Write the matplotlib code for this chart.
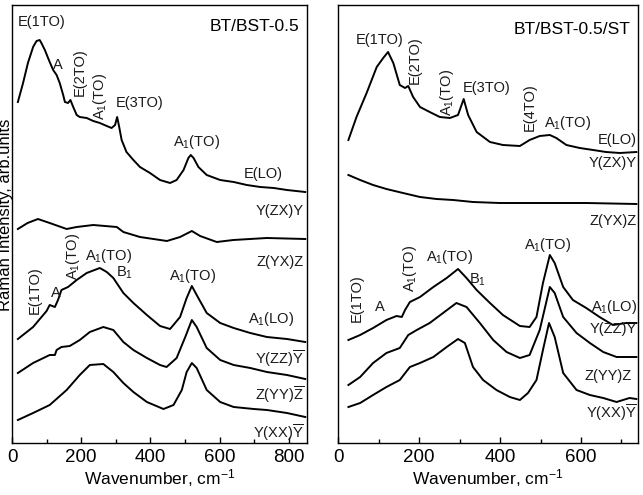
import matplotlib
matplotlib.use("Agg")
import matplotlib.pyplot as plt
from matplotlib.ticker import MultipleLocator

plt.rcParams['font.family'] = ['Liberation Sans', 'DejaVu Sans']
plt.rcParams['mathtext.fontset'] = 'custom'
plt.rcParams['mathtext.rm'] = 'Liberation Sans'
plt.rcParams['mathtext.it'] = 'Liberation Sans:italic'
plt.rcParams['mathtext.bf'] = 'Liberation Sans:bold'

# ---------------- data: left panel (BT/BST-0.5) ----------------
L1_wn = [17, 32, 46, 61, 71, 80, 85, 95, 109, 119, 129, 138, 148, 153, 162, 169, 177, 187, 196, 216,
         235, 254, 274, 288, 298, 304, 310, 317, 331, 351, 370, 399, 428, 457, 476, 496, 510, 517, 525, 539,
         563, 602, 641, 679, 718, 757, 795, 848]
L1_I = [341, 360, 380, 396, 402, 403, 400, 393, 381, 373, 368, 360, 348, 341, 340, 343, 336, 328, 326, 325,
        322, 320, 317, 315, 318, 326, 316, 303, 291, 283, 276, 270, 263, 260, 263, 273, 285, 288, 285, 276,
        268, 263, 261, 258, 256, 255, 253, 251]

L2_wn = [17, 45, 75, 109, 158, 187, 235, 303, 322, 370, 448, 486, 520, 544, 592, 640, 737, 848]
L2_I = [214, 220, 224, 220, 214, 216, 218, 216, 211, 206, 202, 206, 212, 207, 201, 203, 205, 204]

L3_wn = [17, 61, 100, 109, 124, 133, 143, 162, 187, 216, 254, 274, 293, 322, 351, 390, 428, 457, 486, 505,
         520, 534, 563, 602, 641, 689, 737, 795, 848]
L3_I = [104, 116, 132, 138, 136, 143, 153, 156, 163, 170, 175, 171, 165, 150, 140, 128, 117, 114, 126, 145,
        157, 148, 130, 120, 115, 110, 106, 104, 101]

L4_wn = [17, 61, 109, 124, 129, 143, 167, 196, 225, 264, 293, 322, 351, 390, 428, 447, 476, 501, 520, 534,
         563, 602, 641, 689, 737, 795, 848]
L4_I = [70, 80, 88, 88, 93, 96, 97, 103, 111, 116, 113, 101, 93, 85, 78, 76, 85, 106, 123, 116,
        95, 83, 78, 75, 71, 68, 64]

L5_wn = [17, 61, 109, 158, 196, 225, 264, 293, 322, 351, 390, 438, 467, 491, 505, 520, 534, 563, 602, 641,
         699, 737, 795, 848]
L5_I = [23, 30, 38, 53, 68, 78, 79, 71, 60, 51, 41, 34, 38, 53, 71, 80, 75, 53, 41, 36,
        34, 33, 30, 26]

# ---------------- data: right panel (BT/BST-0.5/ST) ----------------
R1_wn = [25, 45, 70, 95, 111, 123, 136, 152, 165, 173, 185, 202, 226, 251, 276, 296, 310, 321, 342, 375,
         407, 449, 473, 498, 523, 539, 564, 597, 630, 662, 696, 737]
R1_I = [303, 326, 350, 376, 385, 391, 380, 358, 355, 357, 346, 336, 331, 326, 325, 328, 344, 328, 311, 301,
        298, 297, 303, 307, 308, 305, 298, 295, 293, 291, 290, 291]

R2_wn = [25, 54, 86, 119, 160, 202, 243, 284, 333, 399, 465, 531, 613, 737]
R2_I = [268, 263, 258, 254, 250, 246, 244, 243, 241, 240, 240, 240, 240, 239]

R3_wn = [25, 54, 86, 119, 144, 157, 165, 177, 202, 235, 268, 296, 317, 342, 375, 407, 449, 473, 490, 506,
         523, 535, 556, 580, 613, 646, 679, 712, 737]
R3_I = [103, 108, 115, 123, 127, 126, 133, 141, 146, 156, 165, 174, 165, 153, 140, 128, 117, 116, 126, 160,
        188, 180, 156, 143, 135, 126, 118, 120, 120]

R4_wn = [25, 54, 86, 119, 152, 173, 194, 226, 259, 292, 317, 350, 383, 416, 449, 473, 498, 523, 535, 556,
         589, 622, 655, 688, 737]
R4_I = [58, 66, 80, 90, 95, 108, 113, 120, 130, 140, 136, 120, 103, 91, 85, 88, 113, 156, 150, 126,
        110, 100, 91, 86, 86]

R5_wn = [25, 54, 86, 119, 152, 177, 202, 235, 268, 296, 313, 333, 358, 391, 424, 449, 469, 490, 506, 521,
         535, 556, 589, 622, 655, 688, 720, 737]
R5_I = [36, 40, 48, 56, 63, 76, 80, 86, 96, 104, 100, 76, 63, 53, 46, 43, 50, 63, 93, 120,
        106, 70, 53, 48, 45, 41, 45, 44]

left_series = [(L1_wn, L1_I), (L2_wn, L2_I), (L3_wn, L3_I), (L4_wn, L4_I), (L5_wn, L5_I)]
right_series = [(R1_wn, R1_I), (R2_wn, R2_I), (R3_wn, R3_I), (R4_wn, R4_I), (R5_wn, R5_I)]

A1 = r'A$_1$'
OY = r'$\overline{\mathrm{Y}}$'
OZ = r'$\overline{\mathrm{Z}}$'

# (text, wn, intensity, ha, rotation)
left_labels = [
    ('E(1TO)', 85, 421, 'center', 0),
    ('A', 132, 378, 'center', 0),
    ('E(2TO)', 196, 371, 'center', 90),
    (A1 + '(TO)', 254, 347, 'center', 90),
    ('E(3TO)', 370, 340, 'center', 0),
    (A1 + '(TO)', 533, 301, 'center', 0),
    ('E(LO)', 727, 269, 'center', 0),
    ('Y(ZX)Y', 842, 232, 'right', 0),
    ('Z(YX)Z', 845, 181, 'right', 0),
    ('E(1TO)', 66, 153, 'center', 90),
    ('A', 127, 150, 'center', 0),
    (A1 + '(TO)', 176, 187, 'center', 90),
    (A1 + '(TO)', 280, 187, 'center', 0),
    ('B$_1$', 324, 170, 'center', 0),
    (A1 + '(TO)', 521, 167, 'center', 0),
    (A1 + '(LO)', 750, 124, 'center', 0),
    ('Y(ZZ)' + OY, 845, 84, 'right', 0),
    ('Z(YY)' + OZ, 845, 48, 'right', 0),
    ('Y(XX)' + OY, 845, 10, 'right', 0),
]
right_labels = [
    ('E(1TO)', 103, 403, 'center', 0),
    ('E(2TO)', 189, 383, 'center', 90),
    (A1 + '(TO)', 268, 351, 'center', 90),
    ('E(3TO)', 367, 355, 'center', 0),
    ('E(4TO)', 473, 336, 'center', 90),
    (A1 + '(TO)', 567, 320, 'center', 0),
    ('E(LO)', 690, 303, 'center', 0),
    ('Y(ZX)Y', 737, 280, 'right', 0),
    ('Z(YX)Z', 737, 222, 'right', 0),
    (A1 + '(TO)', 518, 198, 'center', 0),
    ('E(1TO)', 46, 145, 'center', 90),
    ('A', 103, 136, 'center', 0),
    (A1 + '(TO)', 177, 175, 'center', 90),
    (A1 + '(TO)', 276, 186, 'center', 0),
    ('B$_1$', 345, 163, 'center', 0),
    (A1 + '(LO)', 681, 136, 'center', 0),
    ('Y(ZZ)Y', 737, 114, 'right', 0),
    ('Z(YY)Z', 725, 67, 'right', 0),
    ('Y(XX)' + OY, 737, 30, 'right', 0),
]

fig = plt.figure(figsize=(6.43, 4.95), dpi=100)
axL = fig.add_axes([12 / 643, 1 - 443 / 495, 295 / 643, 438 / 495])
axR = fig.add_axes([338.3 / 643, 1 - 443 / 495, 299.7 / 643, 438 / 495])


def style(ax, xmax, series, labels, title, title_y):
    for wn, inten in series:
        ax.plot(wn, inten, color='black', lw=1.4)
    ax.set_xlim(0, xmax)
    ax.set_ylim(0, 438)
    ax.set_yticks([])
    ax.xaxis.set_major_locator(MultipleLocator(200))
    ax.xaxis.set_minor_locator(MultipleLocator(100))
    ax.tick_params(axis='x', which='major', direction='in', length=4, width=1,
                   labelsize=13.5, pad=4)
    ax.tick_params(axis='x', which='minor', direction='in', length=3, width=1)
    for s in ax.spines.values():
        s.set_linewidth(1.0)
    ax.set_xlabel('Wavenumber, cm$^{-1}$', fontsize=12.5, labelpad=1)
    for text, x, y, ha, rot in labels:
        ax.text(x, y, text, ha=ha, va='center', rotation=rot, fontsize=10.5, color='#1a1a1a')
    ax.text(0.975, title_y, title, transform=ax.transAxes, ha='right', va='center', fontsize=12.5)


style(axL, 853, left_series, left_labels, 'BT/BST-0.5', 0.95)
style(axR, 741, right_series, right_labels, 'BT/BST-0.5/ST', 0.943)

fig.text(6 / 643, 1 - 215 / 495, 'Raman Intensity, arb.units', rotation=90,
         ha='center', va='center', fontsize=12)

fig.savefig('out.png', dpi=100)
